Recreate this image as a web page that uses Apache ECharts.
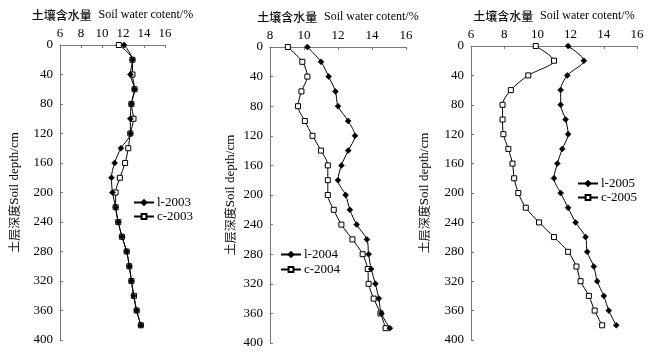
<!DOCTYPE html>
<html>
<head>
<meta charset="utf-8">
<script src="https://cdn.jsdelivr.net/npm/echarts@6/dist/echarts.min.js"></script>
<style>
  html, body { margin: 0; padding: 0; background: #fff; }
  #chart { width: 652px; height: 358px; }
</style>
</head>
<body>
<div id="chart"></div>
<script>
// soil depth (cm)
const depth = [0, 20, 40, 60, 80, 100, 120, 140, 160, 180, 200, 220, 240, 260, 280, 300, 320, 340, 360, 380];

// soil water content (%)
const l2003 = [12.1, 12.9, 12.7, 13.1, 12.8, 12.7, 12.7, 11.8, 11.2, 10.9, 11.0, 11.3, 11.55, 11.9, 12.35, 12.6, 12.8, 13.0, 13.3, 13.7];
const c2003 = [11.6, 12.9, 12.9, 13.1, 12.8, 13.0, 12.7, 12.5, 12.2, 11.7, 11.3, 11.3, 11.55, 11.9, 12.35, 12.6, 12.8, 13.05, 13.3, 13.7];
const l2004 = [10.2, 11.0, 11.45, 11.85, 12.0, 12.6, 13.0, 12.6, 12.2, 12.0, 12.45, 12.7, 13.1, 13.7, 13.8, 13.95, 14.2, 14.4, 14.55, 15.05];
const c2004 = [9.05, 9.9, 10.2, 9.85, 9.65, 10.05, 10.5, 11.0, 11.4, 11.4, 11.4, 11.75, 12.2, 12.85, 13.45, 13.75, 13.8, 14.1, 14.5, 14.8];
const l2005 = [11.85, 12.8, 11.8, 11.4, 11.4, 11.7, 11.85, 11.5, 11.2, 11.0, 11.4, 11.85, 12.3, 12.9, 13.0, 13.4, 13.6, 14.0, 14.3, 14.75];
const c2005 = [9.9, 11.0, 9.45, 8.4, 7.9, 7.9, 7.95, 8.25, 8.5, 8.6, 8.85, 9.3, 10.1, 11.0, 11.85, 12.35, 12.6, 13.1, 13.45, 13.9];

const xMins = [6, 8, 6];
const xMax = 16;

const serif = "Liberation Serif";
const cjk = "Noto Sans CJK SC";

const myChart = echarts.init(document.getElementById("chart"));

function pairs(vals) {
  return vals.map((v, i) => [v, depth[i]]);
}

function xAxisOf(i) {
  return {
    gridIndex: i,
    type: "value",
    position: "top",
    min: xMins[i],
    max: xMax,
    interval: 2,
    name: "{cn|土壤含水量}  {en|Soil water cotent/%}",
    nameLocation: "middle",
    nameGap: 24,
    nameTextStyle: {
      rich: {
        cn: { fontFamily: cjk, fontSize: 12, color: "#111", fontWeight: 500 },
        en: { fontFamily: serif, fontSize: 12, color: "#000" },
      },
    },
    axisLine: { show: true, lineStyle: { color: "#777", width: 1 } },
    axisTick: { show: true, inside: true, length: 3, lineStyle: { color: "#777" } },
    axisLabel: { fontFamily: serif, fontSize: 13, color: "#000", margin: 5 },
    splitLine: { show: false },
  };
}

function yAxisOf(i, gap) {
  return {
    gridIndex: i,
    type: "value",
    inverse: true,
    min: 0,
    max: 400,
    interval: 40,
    name: "{cn|土层深度}{en|Soil depth/cm}",
    nameLocation: "middle",
    nameRotate: 90,
    nameGap: gap,
    nameTextStyle: {
      rich: {
        cn: { fontFamily: cjk, fontSize: 12, color: "#111" },
        en: { fontFamily: serif, fontSize: 13, color: "#000" },
      },
    },
    axisLine: { show: true, lineStyle: { color: "#777", width: 1 } },
    axisTick: { show: true, inside: true, length: 3, lineStyle: { color: "#777" } },
    axisLabel: { fontFamily: serif, fontSize: 13, color: "#000", margin: 7 },
    splitLine: { show: false },
  };
}

function lineSeries(name, vals, i, filled) {
  return {
    name: name,
    type: "line",
    xAxisIndex: i,
    yAxisIndex: i,
    data: pairs(vals),
    smooth: 0.3,
    symbol: filled ? "diamond" : "rect",
    symbolSize: filled ? 6 : 5,
    lineStyle: { color: "#000", width: 1 },
    itemStyle: filled
      ? { color: "#000", borderColor: "#000", borderWidth: 0.5 }
      : { color: "#fff", borderColor: "#000", borderWidth: 1 },
    emphasis: { disabled: true },
    z: filled ? 3 : 2,
  };
}

function legendOf(i, names, left, top, gap) {
  return {
    data: names,
    orient: "vertical",
    left: left,
    top: top,
    itemWidth: 20,
    itemHeight: 6,
    itemGap: gap,
    padding: 0,
    textStyle: { fontFamily: serif, fontSize: 13, color: "#000", lineHeight: 10, padding: [0, 0, 0, -2] },
  };
}

myChart.setOption({
  animation: false,
  backgroundColor: "#fff",
  grid: [
    { left: 60, top: 45, width: 105, height: 295 },
    { left: 270, top: 47, width: 136, height: 296 },
    { left: 471, top: 46, width: 166, height: 294 },
  ],
  xAxis: [xAxisOf(0), xAxisOf(1), xAxisOf(2)],
  yAxis: [yAxisOf(0, 39), yAxisOf(1, 33), yAxisOf(2, 40)],
  legend: [
    legendOf(0, ["l-2003", "c-2003"], 133, 196, 1),
    legendOf(1, ["l-2004", "c-2004"], 280, 248, 2),
    legendOf(2, ["l-2005", "c-2005"], 577, 177, 1),
  ],
  series: [
    lineSeries("l-2003", l2003, 0, true),
    lineSeries("c-2003", c2003, 0, false),
    lineSeries("l-2004", l2004, 1, true),
    lineSeries("c-2004", c2004, 1, false),
    lineSeries("l-2005", l2005, 2, true),
    lineSeries("c-2005", c2005, 2, false),
  ],
});
</script>
</body>
</html>
